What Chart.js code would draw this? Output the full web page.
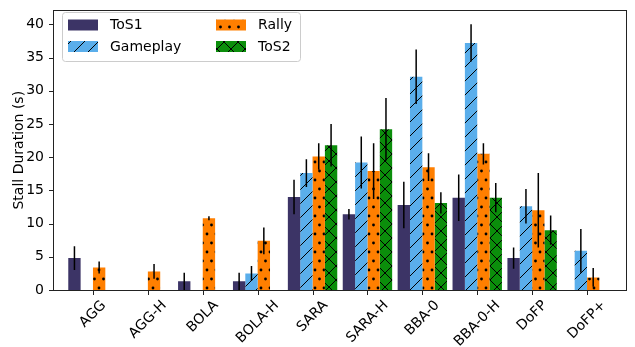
<!DOCTYPE html>
<html>
<head>
<meta charset="utf-8">
<script src="https://cdn.jsdelivr.net/npm/chart.js@4.4.1/dist/chart.umd.min.js"></script>
<style>
  html, body { margin: 0; padding: 0; background: #fff; }
  canvas { display: block; }
</style>
</head>
<body>
<canvas id="stalls" width="635" height="347"></canvas>
<script>
const categories = ['AGG', 'AGG-H', 'BOLA', 'BOLA-H', 'SARA', 'SARA-H', 'BBA-0', 'BBA-0-H', 'DoFP', 'DoFP+'];

// mean stall duration (s) per video type, null = not measured
const tos1     = [4.8, null, 1.3, 1.3, 14.0, 11.4, 12.8, 13.9, 4.8, null];
const gameplay = [null, null, null, 2.5, 17.6, 19.2, 32.1, 37.2, 12.6, 5.9];
const rally    = [3.4, 2.8, 10.8, 7.4, 20.1, 17.9, 18.5, 20.5, 12.0, 1.9];
const tos2     = [null, null, null, null, 21.8, 24.2, 13.1, 13.9, 9.0, null];

// half-length of the error bars
const tos1Err     = [1.8, null, 1.3, 1.3, 2.6, 0.8, 3.5, 3.5, 1.6, null];
const gameplayErr = [null, null, null, 1.1, 2.1, 3.9, 4.1, 2.8, 2.6, 3.3];
const rallyErr    = [0.9, 1.1, 0.3, 2.0, 2.0, 4.2, 2.1, 1.6, 5.6, 1.4];
const tos2Err     = [null, null, null, null, 3.2, 4.7, 1.6, 2.2, 2.2, null];

const yTicks = [0, 5, 10, 15, 20, 25, 30, 35, 40];
const yMax = 42.1;

const FONT = "'DejaVu Sans', sans-serif";
Chart.defaults.font.family = FONT;
Chart.defaults.font.size = 14;
Chart.defaults.color = '#000';

// hatch fills: '/', '.', 'x'
function hatch(base, kind) {
  const c = document.createElement('canvas');
  const g = c.getContext('2d');
  if (kind === 'dots') {
    c.width = 9; c.height = 18;
    g.fillStyle = base; g.fillRect(0, 0, 9, 18);
    g.fillStyle = '#000';
    [[0, 0], [9, 0], [0, 18], [9, 18], [4.5, 9]].forEach(([x, y]) => {
      g.beginPath(); g.arc(x, y, 1.4, 0, Math.PI * 2); g.fill();
    });
  } else {
    const s = 14;
    c.width = s; c.height = s;
    g.fillStyle = base; g.fillRect(0, 0, s, s);
    g.strokeStyle = '#000'; g.lineWidth = 1;
    g.beginPath();
    for (const k of [-s, 0, s]) {
      g.moveTo(k, s); g.lineTo(k + s, 0);
      if (kind === 'cross') { g.moveTo(k, 0); g.lineTo(k + s, s); }
    }
    g.stroke();
  }
  return g.createPattern(c, 'repeat');
}

const toPoints = arr => arr.map((v, i) => ({ x: i, y: v }));

const series = [
  { label: 'ToS1',     values: tos1,     errors: tos1Err,     fill: '#3c3466' },
  { label: 'Gameplay', values: gameplay, errors: gameplayErr, fill: hatch('#5aaeeb', 'slash') },
  { label: 'Rally',    values: rally,    errors: rallyErr,    fill: hatch('#ff7f00', 'dots') },
  { label: 'ToS2',     values: tos2,     errors: tos2Err,     fill: hatch('#0b8e0b', 'cross') }
];

const errorBars = {
  id: 'errorBars',
  afterDatasetsDraw(chart) {
    const { ctx, chartArea: a, scales: { y } } = chart;
    ctx.save();
    ctx.beginPath();
    ctx.rect(a.left, a.top, a.right - a.left, a.bottom - a.top);
    ctx.clip();
    ctx.strokeStyle = '#000';
    ctx.lineWidth = 1.5;
    chart.data.datasets.forEach((ds, i) => {
      chart.getDatasetMeta(i).data.forEach((bar, j) => {
        const v = ds.values[j], e = ds.errors[j];
        if (v == null || e == null) return;
        ctx.beginPath();
        ctx.moveTo(bar.x, y.getPixelForValue(v - e));
        ctx.lineTo(bar.x, y.getPixelForValue(v + e));
        ctx.stroke();
      });
    });
    ctx.restore();
  }
};

const frameAndLabels = {
  id: 'frameAndLabels',
  afterDraw(chart) {
    const { ctx, chartArea: a, scales: { x, y } } = chart;
    const L = Math.round(a.left), R = Math.round(a.right);
    const T = Math.round(a.top), B = Math.round(a.bottom);
    ctx.save();

    // axes box and tick marks
    ctx.fillStyle = '#222';
    ctx.fillRect(L - 1, T, R - L + 1, 1);
    ctx.fillRect(L - 1, B, R - L + 1, 1);
    ctx.fillRect(L - 1, T, 1, B - T + 1);
    ctx.fillRect(R, T, 1, B - T + 1);
    categories.forEach((_, i) => {
      ctx.fillRect(Math.round(x.getPixelForValue(i)), B + 1, 1, 4);
    });
    yTicks.forEach(v => {
      ctx.fillRect(L - 5, Math.round(y.getPixelForValue(v)), 4, 1);
    });

    // rotated category labels, centred under each tick
    ctx.font = '14px ' + FONT;
    ctx.fillStyle = '#000';
    ctx.textAlign = 'center';
    ctx.textBaseline = 'middle';
    const top = a.bottom + 7.5;
    categories.forEach((name, i) => {
      const w = ctx.measureText(name).width;
      const side = (w + 16) * Math.SQRT1_2;
      ctx.save();
      ctx.translate(x.getPixelForValue(i), top + side / 2);
      ctx.rotate(-Math.PI / 4);
      ctx.fillText(name, 0, 0);
      ctx.restore();
    });

    // legend, two columns inside the axes
    const box = { x: 62, y: 12, w: 238, h: 49 };
    ctx.beginPath();
    ctx.roundRect(box.x + 0.5, box.y + 0.5, box.w, box.h, 3);
    ctx.fillStyle = 'rgba(255,255,255,0.8)';
    ctx.fill();
    ctx.strokeStyle = '#cccccc';
    ctx.lineWidth = 1;
    ctx.stroke();
    ctx.textAlign = 'left';
    chart.data.datasets.forEach((ds, i) => {
      const sx = box.x + 6 + Math.floor(i / 2) * 148;
      const sy = box.y + 7.5 + (i % 2) * 21.5;
      ctx.fillStyle = ds.backgroundColor;
      ctx.fillRect(sx, sy, 30, 11);
      ctx.fillStyle = '#000';
      ctx.fillText(ds.label, sx + 42, sy + 6);
    });
    ctx.restore();
  }
};

new Chart(document.getElementById('stalls'), {
  type: 'bar',
  data: {
    datasets: series.map(s => ({
      label: s.label,
      data: toPoints(s.values),
      values: s.values,
      errors: s.errors,
      backgroundColor: s.fill,
      borderWidth: 0,
      categoryPercentage: 0.9,
      barPercentage: 1.0
    }))
  },
  options: {
    responsive: false,
    animation: false,
    layout: { padding: { top: 5, right: 9, left: 0, bottom: 0 } },
    plugins: { legend: { display: false }, tooltip: { enabled: false } },
    scales: {
      x: {
        type: 'linear',
        offset: false,
        min: -0.71,
        max: 9.71,
        afterBuildTicks: s => { s.ticks = categories.map((_, i) => ({ value: i })); },
        afterFit: s => { s.height = 57; },
        ticks: { display: false },
        grid: { display: false, offset: false },
        border: { display: false }
      },
      y: {
        min: 0,
        max: yMax,
        afterBuildTicks: s => { s.ticks = yTicks.map(v => ({ value: v })); },
        afterFit: s => { s.width = 54; },
        ticks: { padding: 2, font: { size: 14 } },
        grid: { display: false },
        border: { display: false },
        title: {
          display: true,
          text: 'Stall Duration (s)',
          font: { size: 14 },
          padding: { top: 11, bottom: 0 }
        }
      }
    }
  },
  plugins: [errorBars, frameAndLabels]
});
</script>
</body>
</html>
